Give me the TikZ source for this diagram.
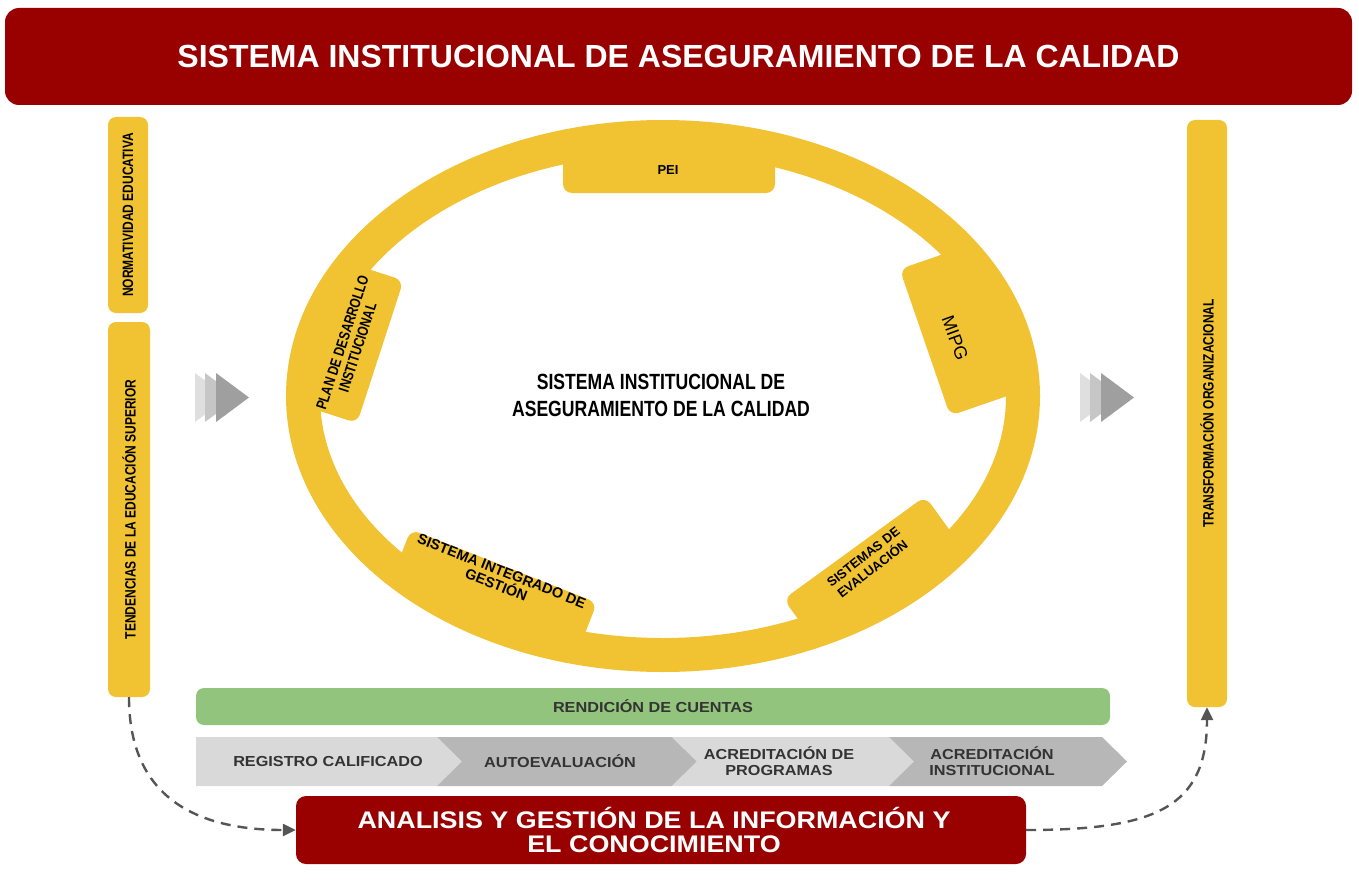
\documentclass[tikz,border=0pt]{standalone}
\usepackage{fontspec}
\setmainfont{Liberation Sans}
\newfontfamily\narrowfont{Liberation Sans}[FakeStretch=0.8]
\newfontfamily\widefont{Liberation Sans}[FakeStretch=1.12]
\usetikzlibrary{arrows.meta}
\definecolor{darkred}{HTML}{990000}
\definecolor{gold}{HTML}{F1C232}
\definecolor{lgreen}{HTML}{93C47D}
\definecolor{lgray}{HTML}{D9D9D9}
\definecolor{mgray}{HTML}{B7B7B7}
\definecolor{txtgray}{HTML}{333333}
\definecolor{conngray}{HTML}{555555}
\begin{document}
\begin{tikzpicture}[x=1pt,y=-1pt,
  redbox/.style={fill=darkred, rounded corners=14pt, inner sep=0pt, text=white, font=\bfseries, align=center},
  sidebar/.style={fill=gold, rounded corners=8pt, inner sep=0pt, rotate=90, font=\narrowfont\bfseries\fontsize{15}{17}\selectfont},
  tab/.style={fill=gold, rounded corners=9pt, inner sep=0pt},
  tabtext/.style={inner sep=0pt, align=center, font=\bfseries\fontsize{13}{14}\selectfont},
  steptext/.style={inner sep=0pt, align=center, text=txtgray, font=\widefont\bfseries\fontsize{14.5}{16}\selectfont},
  conn/.style={conngray, line width=2.4pt, dash pattern=on 10pt off 7pt, -{Triangle[length=13pt,width=12pt]}},
]
\useasboundingbox (0,0) rectangle (1359,880);
% title
\node[redbox, minimum width=1347pt, minimum height=97pt, font=\bfseries\fontsize{32}{34}\selectfont] (title) at (678.5,56.5) {SISTEMA INSTITUCIONAL DE ASEGURAMIENTO DE LA CALIDAD};
% side bars
\node[sidebar, minimum width=196pt, minimum height=40pt] (norm) at (128,215) {NORMATIVIDAD EDUCATIVA};
\node[sidebar, minimum width=375pt, minimum height=42pt] (tend) at (129,509.5) {TENDENCIAS DE LA EDUCACIÓN SUPERIOR};
\node[sidebar, minimum width=587pt, minimum height=40pt] (trans) at (1207,413.5) {TRANSFORMACIÓN ORGANIZACIONAL};
% gray chevrons
\fill[gray!25] (195,373) -- (228,397.5) -- (195,422) -- cycle;
\fill[gray!45] (205,373) -- (238,397.5) -- (205,422) -- cycle;
\fill[gray!75] (216,373) -- (249,397.5) -- (216,422) -- cycle;
\fill[gray!25] (1080,373) -- (1113,397.5) -- (1080,422) -- cycle;
\fill[gray!45] (1090,373) -- (1123,397.5) -- (1090,422) -- cycle;
\fill[gray!75] (1101,373) -- (1134,397.5) -- (1101,422) -- cycle;
% ring
\draw[gold, line width=34pt] (663,396) ellipse [x radius=360pt, y radius=259pt];
% tabs
\node[tab, minimum width=212pt, minimum height=54pt] (pei) at (669,166) {};
\node[tab, rotate=-71, minimum width=155pt, minimum height=70pt] (mipg) at (958,331) {};
\node[tab, rotate=72, minimum width=150pt, minimum height=70pt] (plan) at (347,341) {};
\node[tab, rotate=-21.5, minimum width=200pt, minimum height=60pt] (sig) at (493,594) {};
\node[tab, rotate=36, minimum width=175pt, minimum height=60pt] (sde) at (872,572) {};
\node[tabtext] (peit) at (668,170) {PEI};
\node[tabtext, rotate=-70, font=\fontsize{18}{20}\selectfont] (mipgt) at (955,338) {MIPG};
\node[tabtext, rotate=72, font=\narrowfont\bfseries\fontsize{15}{16}\selectfont] (plant) at (350,345) {PLAN DE DESARROLLO\\INSTITUCIONAL};
\node[tabtext, rotate=-21.5, font=\bfseries\fontsize{14.5}{15}\selectfont] (sigt) at (499,578) {SISTEMA INTEGRADO DE\\GESTIÓN};
\node[tabtext, rotate=38, font=\bfseries\fontsize{13}{15}\selectfont] (sdet) at (868,563) {SISTEMAS DE\\EVALUACIÓN};
% center text
\node[inner sep=0pt, align=center, font=\narrowfont\bfseries\fontsize{22}{27}\selectfont] (center) at (661,395) {SISTEMA INSTITUCIONAL DE\\ASEGURAMIENTO DE LA CALIDAD};
% green bar
\node[fill=lgreen, rounded corners=8pt, minimum width=914pt, minimum height=37pt, inner sep=0pt, text=txtgray, font=\widefont\bfseries\fontsize{14.5}{16}\selectfont] (rend) at (653,706.5) {RENDICIÓN DE CUENTAS};
% process chevrons
\fill[lgray] (196,737) -- (437,737) -- (462,761.5) -- (437,786) -- (196,786) -- cycle;
\fill[mgray] (437,737) -- (672,737) -- (697,761.5) -- (672,786) -- (437,786) -- (462,761.5) -- cycle;
\fill[lgray] (672,737) -- (889,737) -- (914,761.5) -- (889,786) -- (672,786) -- (697,761.5) -- cycle;
\fill[mgray] (889,737) -- (1102,737) -- (1127,761.5) -- (1102,786) -- (889,786) -- (914,761.5) -- cycle;
\node[steptext] (reg) at (328,761.5) {REGISTRO CALIFICADO};
\node[steptext] (auto) at (560,761.5) {AUTOEVALUACIÓN};
\node[steptext] (acp) at (779,761.5) {ACREDITACIÓN DE\\PROGRAMAS};
\node[steptext] (aci) at (992,761.5) {ACREDITACIÓN\\INSTITUCIONAL};
% bottom box
\node[redbox, rounded corners=10pt, minimum width=730pt, minimum height=68pt] (anal) at (661,830) {};
\node[inner sep=0pt, align=center, text=white, font=\widefont\bfseries\fontsize{24}{24}\selectfont] (analt) at (654,830) {ANALISIS Y GESTIÓN DE LA INFORMACIÓN Y\\EL CONOCIMIENTO};
% connectors
\draw[conn] (tend.west) .. controls +(0,100) and +(-100,0) .. (anal.west);
\draw[conn] (anal.east) .. controls +(130,0) and +(0,100) .. (trans.west);
\end{tikzpicture}
\end{document}
